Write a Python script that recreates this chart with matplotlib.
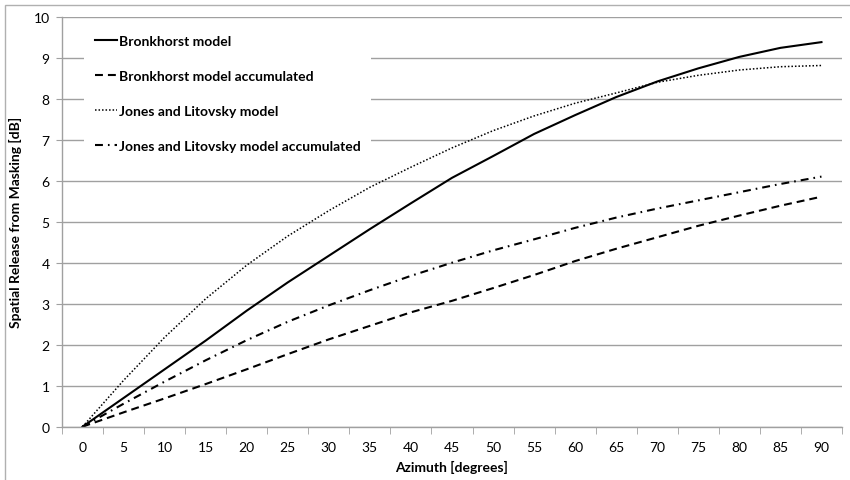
import numpy as np
from matplotlib import pyplot as plt
from matplotlib.patches import Rectangle

plt.rcParams['font.family'] = ['Lato', 'DejaVu Sans']

# azimuth categories (degrees)
azimuth = [0, 5, 10, 15, 20, 25, 30, 35, 40, 45, 50, 55, 60, 65, 70, 75, 80, 85, 90]

# spatial release from masking [dB]
bronkhorst = [0, 0.70, 1.40, 2.10, 2.83, 3.52, 4.17, 4.82, 5.45, 6.07,
              6.60, 7.14, 7.60, 8.04, 8.42, 8.74, 9.02, 9.24, 9.38]
bronkhorst_acc = [0, 0.35, 0.69, 1.04, 1.40, 1.77, 2.13, 2.46, 2.79, 3.07,
                  3.38, 3.70, 4.04, 4.34, 4.62, 4.90, 5.15, 5.39, 5.61]
jones = [0, 1.13, 2.18, 3.12, 3.94, 4.65, 5.27, 5.84, 6.33, 6.80,
         7.22, 7.58, 7.89, 8.14, 8.40, 8.57, 8.70, 8.78, 8.81]
jones_acc = [0, 0.56, 1.10, 1.62, 2.11, 2.56, 2.96, 3.33, 3.68, 4.00,
             4.30, 4.57, 4.85, 5.10, 5.32, 5.52, 5.72, 5.92, 6.10]

labels = ['Bronkhorst model', 'Bronkhorst model accumulated',
          'Jones and Litovsky model', 'Jones and Litovsky model accumulated']

grid_col = '#a0a0a0'

fig = plt.figure(figsize=(8.5, 4.81), dpi=100)
ax = fig.add_axes([62/850, 1 - 427.7/481, 780/850, 410/481])

# outer chart frame (cut off at right and bottom)
fig.add_artist(Rectangle((5/850, -0.1), 1.2, 1 - 6/481 + 0.1, transform=fig.transFigure,
                         fill=False, edgecolor='#b0b0b0', lw=1))

x = np.arange(len(azimuth))
ax.plot(x, bronkhorst, color='black', lw=1.5, linestyle='-', label=labels[0])
ax.plot(x, bronkhorst_acc, color='black', lw=1.5, linestyle=(0, (3.8, 2.4)), label=labels[1])
ax.plot(x, jones, color='black', lw=1.1, linestyle=(0, (1, 1.3)), label=labels[2])
ax.plot(x, jones_acc, color='black', lw=1.5, linestyle=(0, (3.8, 2.4, 0.8, 2.4)), label=labels[3])

ax.set_xlim(-0.5, len(azimuth) - 0.5)
ax.set_ylim(0, 10)
ax.set_yticks(range(0, 11))
ax.set_xticks(x)
ax.set_xticklabels([str(a) for a in azimuth])
ax.set_xticks(np.arange(-0.5, len(azimuth)), minor=True)
ax.tick_params(axis='x', which='major', length=0, pad=10, labelsize=10)
ax.tick_params(axis='x', which='minor', length=5, color=grid_col, direction='out')
ax.tick_params(axis='y', length=4, color=grid_col, direction='out', pad=5, labelsize=10)

ax.grid(axis='y', color=grid_col, lw=1)
ax.set_axisbelow(True)
for s in ['top', 'right']:
    ax.spines[s].set_visible(False)
for s in ['left', 'bottom']:
    ax.spines[s].set_color(grid_col)
    ax.spines[s].set_linewidth(1)

ax.set_xlabel('Azimuth [degrees]', fontweight='bold', fontsize=10, labelpad=5)
ax.set_ylabel('Spatial Release from Masking [dB]', fontweight='bold', fontsize=10, labelpad=8)

leg = ax.legend(loc='upper left', bbox_to_anchor=(0.028, 0.983),
                prop={'weight': 'bold', 'size': 10}, frameon=True, fancybox=False,
                edgecolor='none', facecolor='white', framealpha=1,
                labelspacing=1.65, handlelength=1.6, handletextpad=0.1,
                borderpad=0.8, borderaxespad=0)

fig.savefig('out.png', dpi=100)
